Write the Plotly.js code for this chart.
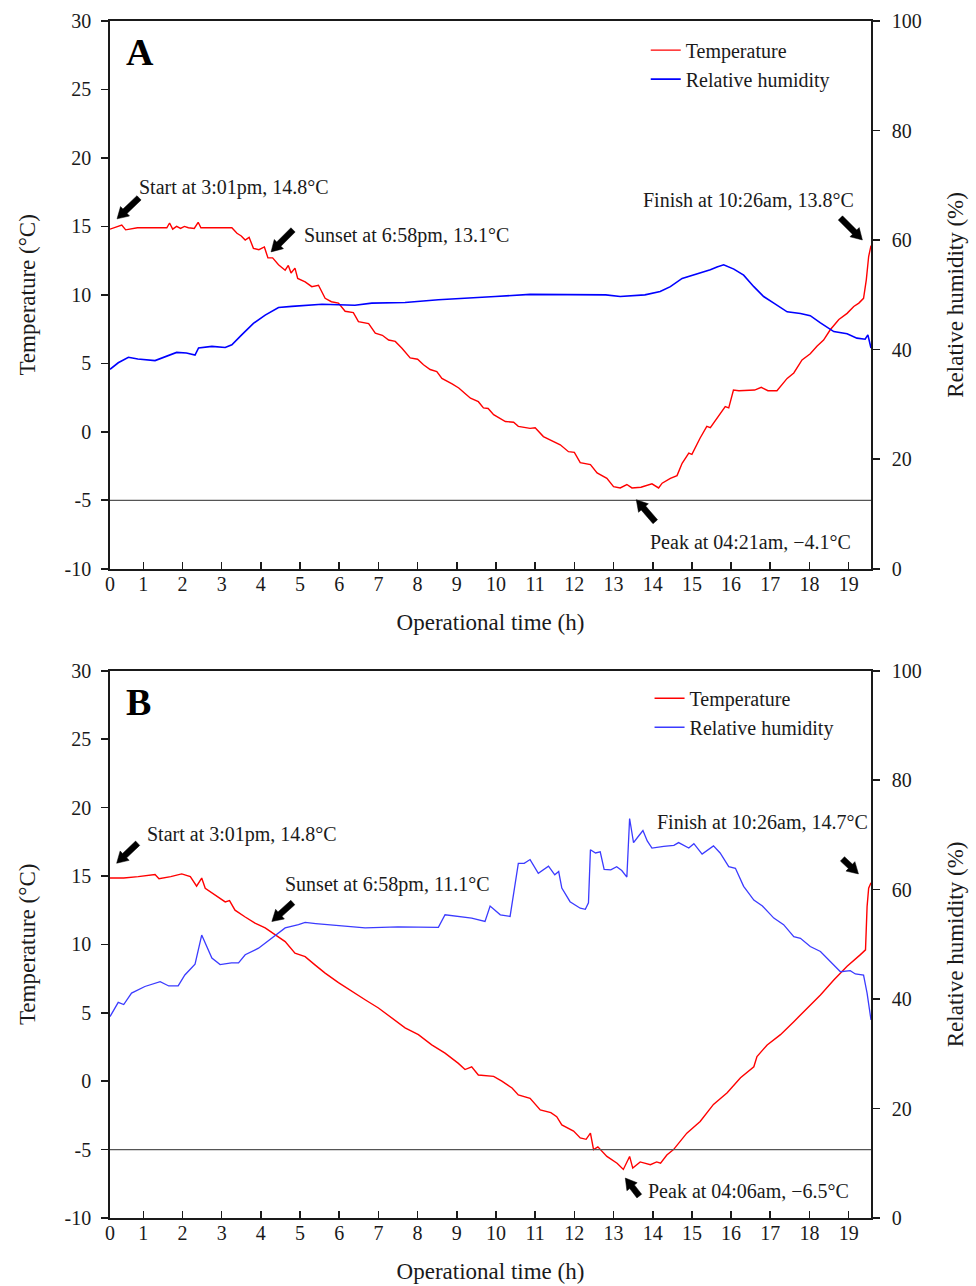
<!DOCTYPE html>
<html><head><meta charset="utf-8">
<script src="https://cdn.plot.ly/plotly-3.0.1.min.js"></script>
<style>html,body{margin:0;padding:0;background:#fff}#chart{width:976px;height:1286px}</style>
</head><body><div id="chart"></div>
<script>
// ---- Panel A : temperature (°C) ----
const tempA_h = [0.15,0.30,0.45,0.55,0.70,0.85,1.20,1.60,1.67,1.75,1.85,1.95,2.05,2.15,2.30,2.40,2.47,2.80,3.26,3.39,3.50,3.60,3.70,3.81,3.95,4.09,4.18,4.30,4.45,4.62,4.70,4.77,4.87,4.94,5.13,5.30,5.47,5.64,5.80,5.98,6.15,6.36,6.49,6.75,6.92,7.10,7.26,7.43,7.60,7.81,8.00,8.15,8.32,8.49,8.62,8.88,9.05,9.21,9.35,9.55,9.68,9.80,9.94,10.24,10.45,10.57,10.87,11.00,11.21,11.64,11.85,12.00,12.15,12.41,12.58,12.83,13.00,13.17,13.34,13.47,13.70,13.98,14.15,14.24,14.45,14.62,14.75,14.92,15.00,15.21,15.38,15.47,15.64,15.85,15.94,16.06,16.20,16.40,16.60,16.77,16.94,17.17,17.43,17.60,17.81,18.02,18.19,18.36,18.53,18.75,18.96,19.13,19.26,19.38,19.45,19.51,19.57];
const tempA = [14.8,14.95,15.1,14.75,14.85,14.9,14.9,14.9,15.25,14.8,15.0,14.85,15.0,14.9,14.85,15.3,14.9,14.9,14.9,14.5,14.3,14.0,14.2,13.4,13.3,13.5,12.7,12.7,12.2,11.8,12.15,11.6,11.95,11.2,10.95,10.6,10.7,9.75,9.5,9.4,8.8,8.7,8.05,7.9,7.2,7.05,6.7,6.6,6.1,5.4,5.3,4.9,4.55,4.4,3.9,3.5,3.2,2.8,2.45,2.2,1.75,1.7,1.25,0.75,0.7,0.4,0.25,0.3,-0.35,-0.95,-1.45,-1.5,-2.25,-2.4,-3.0,-3.4,-4.0,-4.1,-3.85,-4.1,-4.05,-3.8,-4.1,-3.75,-3.4,-3.2,-2.3,-1.55,-1.65,-0.45,0.4,0.3,1.0,1.85,1.75,3.05,3.0,3.05,3.05,3.25,3.0,3.0,3.9,4.3,5.25,5.7,6.25,6.7,7.45,8.2,8.65,9.15,9.4,9.75,11.1,12.8,13.6];
// ---- Panel A : relative humidity (%) ----
const rhA_h = [0.15,0.36,0.62,0.86,1.30,1.55,1.85,2.10,2.32,2.41,2.75,3.09,3.26,3.51,3.81,4.11,4.45,4.79,5.13,5.56,5.98,6.40,6.83,7.26,7.68,8.53,9.38,9.98,10.87,11.50,12.15,12.80,13.17,13.80,14.19,14.45,14.75,15.13,15.47,15.64,15.81,16.07,16.32,16.58,16.83,17.09,17.43,17.77,18.02,18.28,18.62,18.96,19.21,19.42,19.49,19.57];
const rhA = [36.4,37.6,38.6,38.3,38.0,38.7,39.5,39.4,39.0,40.3,40.6,40.4,40.9,42.7,44.8,46.3,47.7,47.9,48.05,48.3,48.2,48.1,48.5,48.6,48.6,49.1,49.4,49.7,50.1,50.1,50.0,50.0,49.7,50.0,50.6,51.5,53.0,53.8,54.6,55.1,55.5,54.7,53.6,51.5,49.7,48.5,46.9,46.6,46.2,44.9,43.3,42.9,42.1,41.9,42.7,40.3];
// ---- Panel B : temperature (°C) ----
const tempB_h = [0.15,0.50,0.87,1.30,1.40,1.70,1.98,2.20,2.36,2.49,2.58,2.83,3.09,3.20,3.34,3.60,3.85,4.11,4.36,4.62,4.87,5.13,5.38,5.64,5.98,6.32,6.66,7.00,7.34,7.68,8.02,8.36,8.70,9.04,9.21,9.38,9.55,9.94,10.15,10.41,10.57,10.87,11.13,11.40,11.55,11.68,11.98,12.15,12.30,12.41,12.49,12.60,12.83,13.09,13.25,13.41,13.49,13.68,13.94,14.10,14.20,14.36,14.53,14.87,15.21,15.55,15.90,16.24,16.58,16.66,16.92,17.26,17.60,17.94,18.28,18.62,18.96,19.30,19.43,19.47,19.51,19.57];
const tempB = [14.85,14.85,14.95,15.1,14.8,14.95,15.15,14.95,14.25,14.85,14.1,13.6,13.1,13.2,12.5,12.0,11.55,11.2,10.7,10.2,9.35,9.1,8.5,7.9,7.2,6.55,5.95,5.35,4.6,3.9,3.4,2.65,2.05,1.3,0.85,1.05,0.45,0.35,0.0,-0.5,-1.0,-1.25,-2.1,-2.3,-2.6,-3.2,-3.65,-4.15,-4.25,-3.8,-5.0,-4.8,-5.5,-6.0,-6.45,-5.5,-6.35,-5.9,-6.1,-5.9,-6.0,-5.4,-5.0,-3.8,-2.95,-1.7,-0.85,0.25,1.05,1.8,2.65,3.4,4.35,5.35,6.3,7.4,8.4,9.25,9.6,12.75,14.1,14.5];
// ---- Panel B : relative humidity (%) ----
const rhB_h = [0.15,0.36,0.50,0.70,1.04,1.43,1.65,1.89,2.06,2.32,2.49,2.75,2.96,3.25,3.43,3.60,3.94,4.28,4.62,4.96,5.13,5.40,5.98,6.66,7.50,8.53,8.70,9.38,9.72,9.85,10.11,10.36,10.57,10.72,10.87,11.08,11.34,11.50,11.60,11.68,11.89,12.15,12.28,12.36,12.41,12.54,12.66,12.76,12.93,13.08,13.21,13.34,13.41,13.51,13.64,13.75,13.86,13.98,14.28,14.54,14.66,14.92,15.05,15.26,15.55,15.72,15.94,16.11,16.32,16.58,16.80,17.09,17.34,17.60,17.77,18.02,18.28,18.53,18.79,19.04,19.17,19.38,19.47,19.57];
const rhB = [36.8,39.4,39.0,41.1,42.3,43.2,42.4,42.4,44.4,46.4,51.7,47.5,46.3,46.6,46.6,48.1,49.3,51.1,53.0,53.6,54.0,53.8,53.4,53.0,53.2,53.1,55.4,54.8,54.2,57.0,55.4,55.1,64.8,64.8,65.5,63.0,64.3,62.7,63.3,60.3,57.8,56.6,56.4,57.6,67.3,66.7,66.9,63.7,63.6,64.2,63.5,62.3,73.0,68.6,69.8,70.8,68.9,67.6,67.9,68.1,68.6,67.6,68.4,66.5,68.0,66.7,64.2,63.9,60.6,58.1,57.0,54.8,53.6,51.4,51.1,49.6,48.7,46.9,45.0,45.2,44.6,44.4,41.1,36.2];

// ---- ticks ----
const xTickVals = [0.15,1,2,3,4,5,6,7,8,9,10,11,12,13,14,15,16,17,18,19];
const xTickText = ['0','1','2','3','4','5','6','7','8','9','10','11','12','13','14','15','16','17','18','19'];
const tempTickVals = [-10,-5,0,5,10,15,20,25,30];
const tempTickText = ['-10','-5','0','5','10','15','20','25','30'];
const rhTickVals = [0,20,40,60,80,100];
const rhTickText = ['0','20','40','60','80','100'];
const referenceTemp = -5;

// ---- event annotations (text position, arrow tip, tail offset in px) ----
const eventsA = [
  {text:'Start at 3:01pm, 14.8\u00B0C', tx:0.84, ty:17.81, ax:0.33, ay:15.55, dx:22, dy:-21},
  {text:'Sunset at 6:58pm, 13.1\u00B0C', tx:5.05, ty:14.31, ax:4.26, ay:13.14, dx:22, dy:-22},
  {text:'Finish at 10:26am, 13.8\u00B0C', tx:13.71, ty:16.93, ax:19.35, ay:14.01, dx:-22, dy:-22},
  {text:'Peak at 04:21am, \u22124.1\u00B0C', tx:13.89, ty:-8.01, ax:13.58, ay:-4.96, dx:19, dy:22}
];
const eventsB = [
  {text:'Start at 3:01pm, 14.8\u00B0C', tx:1.04, ty:18.0, ax:0.32, ay:15.93, dx:21, dy:-20},
  {text:'Sunset at 6:58pm, 11.1\u00B0C', tx:4.56, ty:14.35, ax:4.28, ay:11.67, dx:21, dy:-19},
  {text:'Finish at 10:26am, 14.7\u00B0C', tx:14.06, ty:18.97, ax:19.25, ay:15.15, dx:-16, dy:-15},
  {text:'Peak at 04:06am, \u22126.5\u00B0C', tx:13.83, ty:-8.06, ax:13.30, ay:-7.08, dx:14, dy:18}
];

const FONT = '"Liberation Serif", "Times New Roman", serif';
const INK = '#1a1a1a';

const traces = [
  {x:tempA_h, y:tempA, type:'scatter', mode:'lines', name:'Temperature', xaxis:'x', yaxis:'y', legend:'legend', line:{color:'#ff0000', width:1.4}},
  {x:rhA_h, y:rhA, type:'scatter', mode:'lines', name:'Relative humidity', xaxis:'x', yaxis:'y2', legend:'legend', line:{color:'#0000ff', width:1.6}},
  {x:tempB_h, y:tempB, type:'scatter', mode:'lines', name:'Temperature', xaxis:'x2', yaxis:'y3', legend:'legend2', line:{color:'#ff0000', width:1.4}},
  {x:rhB_h, y:rhB, type:'scatter', mode:'lines', name:'Relative humidity', xaxis:'x2', yaxis:'y4', legend:'legend2', line:{color:'#3b3bff', width:1.3}}
];

function xAxis(anchor){
  return {anchor:anchor, domain:[0,1], range:[0.15,19.57], tickmode:'array', tickvals:xTickVals, ticktext:xTickText,
    ticks:'inside', ticklen:7, tickwidth:1.6, tickcolor:INK, showline:true, linecolor:INK, linewidth:1.8, mirror:true,
    showgrid:false, zeroline:false, ticklabelstandoff:-4, tickfont:{size:20, family:FONT, color:INK},
    title:{text:'Operational time (h)', font:{size:23, family:FONT, color:INK}, standoff:20}};
}
function tempAxis(anchor, domain){
  return {anchor:anchor, domain:domain, range:[-10,30], tickmode:'array', tickvals:tempTickVals, ticktext:tempTickText,
    ticks:'outside', ticklen:7, tickwidth:1.6, tickcolor:INK, showline:true, linecolor:INK, linewidth:1.8,
    showgrid:false, zeroline:false, ticklabelstandoff:6, tickfont:{size:20, family:FONT, color:INK},
    title:{text:'Temperature (\u00B0C)', font:{size:23, family:FONT, color:INK}, standoff:22}};
}
function rhAxis(over, anchor){
  return {overlaying:over, anchor:anchor, side:'right', range:[0,100], tickmode:'array', tickvals:rhTickVals, ticktext:rhTickText,
    ticks:'outside', ticklen:7, tickwidth:1.6, tickcolor:INK, showline:true, linecolor:INK, linewidth:1.8,
    showgrid:false, zeroline:false, ticklabelstandoff:8, tickfont:{size:20, family:FONT, color:INK},
    title:{text:'Relative humidity (%)', font:{size:23, family:FONT, color:INK}, standoff:26}};
}

// filled arrow outline, in pixels relative to the tip (y up)
function arrowPath(dx, dy){
  const tx = dx, ty = -dy;
  const L = Math.hypot(tx, ty), ux = tx / L, uy = ty / L, nx = -uy, ny = ux;
  const hl = 11, hw = 13, sw = 6;
  const bx = ux * hl, by = uy * hl;
  const p = [
    [0, 0],
    [bx + nx * hw / 2, by + ny * hw / 2],
    [bx + nx * sw / 2, by + ny * sw / 2],
    [tx + nx * sw / 2, ty + ny * sw / 2],
    [tx - nx * sw / 2, ty - ny * sw / 2],
    [bx - nx * sw / 2, by - ny * sw / 2],
    [bx - nx * hw / 2, by - ny * hw / 2]
  ];
  return 'M' + p.map(q => q[0].toFixed(2) + ',' + q[1].toFixed(2)).join(' L') + ' Z';
}

const annotations = [];
const shapes = [
  {type:'line', xref:'x domain', yref:'y', x0:0, x1:1, y0:referenceTemp, y1:referenceTemp, line:{color:'#555', width:1.2}},
  {type:'line', xref:'x2 domain', yref:'y3', x0:0, x1:1, y0:referenceTemp, y1:referenceTemp, line:{color:'#555', width:1.2}}
];
function addEvents(events, xr, yr){
  events.forEach(e => {
    annotations.push({xref:xr, yref:yr, x:e.tx, y:e.ty, text:e.text, showarrow:false, xanchor:'left', yanchor:'middle',
      font:{size:20, family:FONT, color:INK}});
    shapes.push({type:'path', xref:xr, yref:yr, xsizemode:'pixel', ysizemode:'pixel', xanchor:e.ax, yanchor:e.ay,
      path:arrowPath(e.dx, e.dy), fillcolor:'#000', line:{color:'#000', width:0.5}});
  });
}
addEvents(eventsA, 'x', 'y');
addEvents(eventsB, 'x2', 'y3');
annotations.push({xref:'x domain', yref:'y domain', x:0.018, y:0.943, text:'<b>A</b>', showarrow:false, xanchor:'left', yanchor:'middle', font:{size:38, family:FONT, color:'#000'}});
annotations.push({xref:'x2 domain', yref:'y3 domain', x:0.018, y:0.943, text:'<b>B</b>', showarrow:false, xanchor:'left', yanchor:'middle', font:{size:38, family:FONT, color:'#000'}});

const layout = {
  width:976, height:1286,
  margin:{l:110, r:105, t:21, b:68},
  paper_bgcolor:'#fff', plot_bgcolor:'#fff',
  font:{family:FONT, size:20, color:INK},
  showlegend:true,
  legend:{x:0.704, y:0.992, xanchor:'left', yanchor:'top', bgcolor:'rgba(0,0,0,0)', font:{size:20, family:FONT, color:INK}, tracegroupgap:0},
  legend2:{x:0.709, y:0.4505, xanchor:'left', yanchor:'top', bgcolor:'rgba(0,0,0,0)', font:{size:20, family:FONT, color:INK}, tracegroupgap:0},
  xaxis:xAxis('y'),
  yaxis:tempAxis('x', [0.5424,1]),
  yaxis2:rhAxis('y','x'),
  xaxis2:xAxis('y3'),
  yaxis3:tempAxis('x2', [0,0.4572]),
  yaxis4:rhAxis('y3','x2'),
  annotations:annotations,
  shapes:shapes
};

Plotly.newPlot('chart', traces, layout, {staticPlot:true, displayModeBar:false});
</script></body></html>
